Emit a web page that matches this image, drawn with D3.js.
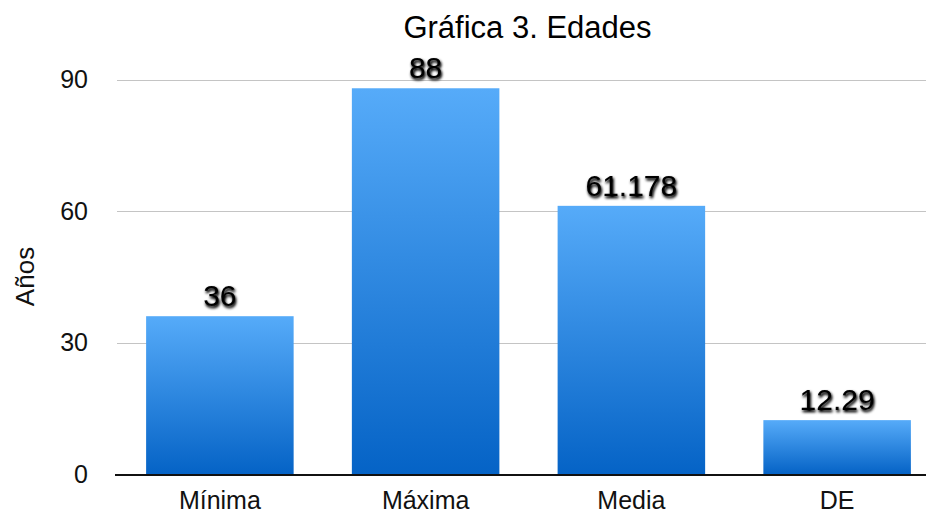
<!DOCTYPE html>
<html>
<head>
<meta charset="utf-8">
<script src="https://cdn.jsdelivr.net/npm/d3@7"></script>
<style>
  html, body { margin: 0; padding: 0; background: #fff; }
  svg { display: block; font-family: "Liberation Sans", Arial, Helvetica, sans-serif; }
</style>
</head>
<body>
<svg id="chart" width="926" height="516"></svg>
<script>
// Estadísticos de edad
const categories = ["Mínima", "Máxima", "Media", "DE"];
const values = [36, 88, 61.178, 12.29];
const valueLabels = ["36", "88", "61.178", "12.29"];
const yTicks = [0, 30, 60, 90];
const title = "Gráfica 3. Edades";
const yTitle = "Años";

const svg = d3.select("#chart");
const W = 926, H = 516;

const x = d3.scaleBand()
  .domain(categories)
  .range([117, 940])
  .paddingInner(0.283)
  .paddingOuter(0.1415);

const y = d3.scaleLinear()
  .domain([0, 90])
  .range([474, 79.5]);

const defs = svg.append("defs");

const grad = defs.append("linearGradient")
  .attr("id", "barGrad")
  .attr("x1", 0).attr("y1", 0).attr("x2", 0).attr("y2", 1);
grad.append("stop").attr("offset", "0%").attr("stop-color", "#56abf9");
grad.append("stop").attr("offset", "100%").attr("stop-color", "#0563c6");

// soft dark halo behind the value labels
const halo = defs.append("filter")
  .attr("id", "halo")
  .attr("x", "-20%").attr("y", "-30%").attr("width", "140%").attr("height", "160%");
halo.append("feGaussianBlur").attr("in", "SourceAlpha").attr("stdDeviation", 1.8).attr("result", "b");
halo.append("feOffset").attr("in", "b").attr("dx", 0.5).attr("dy", 1.5).attr("result", "o");
halo.append("feComponentTransfer").attr("in", "o").attr("result", "s")
  .append("feFuncA").attr("type", "linear").attr("slope", 1.3);
const m = halo.append("feMerge");
m.append("feMergeNode").attr("in", "s");
m.append("feMergeNode").attr("in", "SourceGraphic");

// gridlines
svg.append("g")
  .selectAll("line")
  .data(yTicks.filter(d => d !== 0))
  .join("line")
  .attr("x1", 117).attr("x2", W)
  .attr("y1", d => Math.round(y(d)) + 0.5)
  .attr("y2", d => Math.round(y(d)) + 0.5)
  .attr("stroke", "#c4c4c4")
  .attr("stroke-width", 1);

// y axis labels
const yAxis = d3.axisLeft(y).tickValues(yTicks).tickSize(0).tickPadding(0);
const gy = svg.append("g")
  .attr("transform", "translate(88,0)")
  .call(yAxis);
gy.select(".domain").remove();
gy.selectAll("text")
  .attr("font-size", 25)
  .attr("fill", "#111")
  .attr("font-family", "Liberation Sans, Arial, sans-serif");

// bars
svg.append("g")
  .selectAll("rect")
  .data(categories)
  .join("rect")
  .attr("x", d => x(d))
  .attr("width", x.bandwidth())
  .attr("y", (d, i) => y(values[i]))
  .attr("height", (d, i) => y(0) - y(values[i]))
  .attr("fill", "url(#barGrad)");

// baseline
svg.append("line")
  .attr("x1", 115).attr("x2", W)
  .attr("y1", y(0) + 1).attr("y2", y(0) + 1)
  .attr("stroke", "#111")
  .attr("stroke-width", 2);

// value labels
svg.append("g")
  .selectAll("text")
  .data(categories)
  .join("text")
  .attr("x", d => x(d) + x.bandwidth() / 2)
  .attr("y", (d, i) => y(values[i]) - 10)
  .attr("text-anchor", "middle")
  .attr("font-size", 30)
  .attr("fill", "#000")
  .attr("filter", "url(#halo)")
  .text((d, i) => valueLabels[i]);

// x axis labels
const xAxis = d3.axisBottom(x).tickSize(0).tickPadding(0);
const gx = svg.append("g")
  .call(xAxis);
gx.select(".domain").remove();
gx.selectAll("text")
  .attr("y", 509)
  .attr("dy", null)
  .attr("font-size", 25)
  .attr("fill", "#111")
  .attr("font-family", "Liberation Sans, Arial, sans-serif");

// title
svg.append("text")
  .attr("x", 527.5)
  .attr("y", 38)
  .attr("text-anchor", "middle")
  .attr("font-size", 31)
  .attr("fill", "#000")
  .text(title);

// y axis title
svg.append("text")
  .attr("transform", "translate(34,276.5) rotate(-90)")
  .attr("text-anchor", "middle")
  .attr("font-size", 26)
  .attr("fill", "#111")
  .text(yTitle);
</script>
</body>
</html>
